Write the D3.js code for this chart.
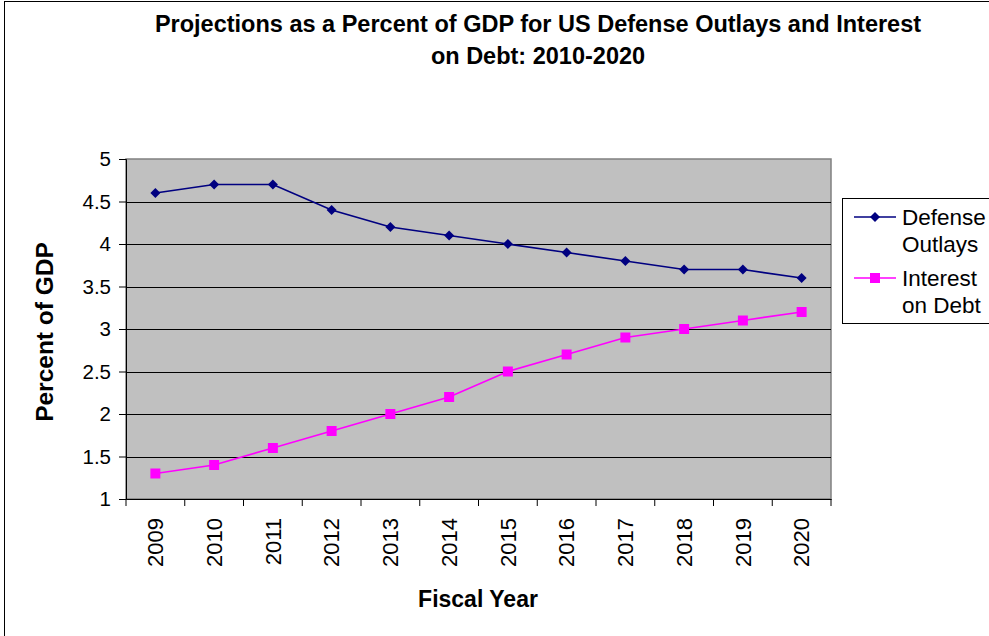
<!DOCTYPE html>
<html><head><meta charset="utf-8">
<script src="https://cdn.jsdelivr.net/npm/d3@7"></script>
<style>body{margin:0;background:#fff;} svg{display:block;font-family:"Liberation Sans",Arial,sans-serif;}</style>
</head><body><svg id="c" width="989" height="636"></svg>
<script>
const years = ["2009","2010","2011","2012","2013","2014","2015","2016","2017","2018","2019","2020"];
const defense = [4.6,4.7,4.7,4.4,4.2,4.1,4.0,3.9,3.8,3.7,3.7,3.6];
const interest = [1.3,1.4,1.6,1.8,2.0,2.2,2.5,2.7,2.9,3.0,3.1,3.2];
const yTicks = [1,1.5,2,2.5,3,3.5,4,4.5,5];
const titleLines = ["Projections as a Percent of GDP for US Defense Outlays and Interest","on Debt: 2010-2020"];
const legendNames = [["Defense","Outlays"],["Interest","on Debt"]];

const svg = d3.select("#c");
const L=126, R=831, T=159, B=499;
const x = d3.scaleBand().domain(years).range([L,R]);
const y = d3.scaleLinear().domain([1,5]).range([B,T]);

svg.append("rect").attr("x",4.5).attr("y",1.5).attr("width",1200).attr("height",900)
  .attr("fill","#fff").attr("stroke","#000");

svg.append("rect").attr("x",L).attr("y",T).attr("width",R-L).attr("height",B-T)
  .attr("fill","#C0C0C0").attr("stroke","#808080").attr("stroke-width",1.5);

// gridlines
svg.append("g").selectAll("line").data(yTicks.slice(1,-1)).join("line")
  .attr("x1",L).attr("x2",R).attr("y1",d=>Math.round(y(d))+0.5).attr("y2",d=>Math.round(y(d))+0.5)
  .attr("stroke","#000").attr("stroke-width",1);

// y axis
const ya = svg.append("g").attr("transform",`translate(${L},0)`)
  .call(d3.axisLeft(y).tickValues(yTicks).tickFormat(d3.format("")).tickSize(7).tickPadding(8));
ya.select(".domain").attr("stroke","#000");
ya.selectAll(".tick line").attr("stroke","#000");
ya.selectAll("text").attr("font-size",20.5).attr("fill","#000").attr("font-family","Liberation Sans, Arial, sans-serif");

// x axis
const xa = svg.append("g").attr("transform",`translate(0,${B})`)
  .call(d3.axisBottom(x).tickSize(0).tickSizeOuter(0));
xa.select(".domain").attr("stroke","#000");
const bounds = d3.range(years.length+1).map(i=>L+i*x.step());
xa.selectAll(".bnd").data(bounds).join("line").attr("class","bnd")
  .attr("x1",d=>d).attr("x2",d=>d).attr("y1",0).attr("y2",7).attr("stroke","#000");
xa.selectAll(".tick text").attr("font-size",22).attr("fill","#000")
  .attr("font-family","Liberation Sans, Arial, sans-serif")
  .attr("transform","rotate(-90)").attr("text-anchor","end")
  .attr("x",-19).attr("y",0).attr("dy","0.35em");

// lines
const line = d3.line().x((d,i)=>x(years[i])+x.bandwidth()/2).y(d=>y(d));
svg.append("path").datum(defense).attr("d",line).attr("fill","none").attr("stroke","#000080").attr("stroke-width",1.7);
svg.append("path").datum(interest).attr("d",line).attr("fill","none").attr("stroke","#FF00FF").attr("stroke-width",1.7);
svg.append("g").selectAll("path").data(defense).join("path")
  .attr("d",d3.symbol().type(d3.symbolSquare).size(50)).attr("transform",(d,i)=>`translate(${x(years[i])+x.bandwidth()/2},${y(d)}) rotate(45)`)
  .attr("fill","#000080");
svg.append("g").selectAll("rect").data(interest).join("rect")
  .attr("x",(d,i)=>x(years[i])+x.bandwidth()/2-5).attr("y",d=>y(d)-5)
  .attr("width",10).attr("height",10).attr("fill","#FF00FF");

// title
svg.append("g").selectAll("text").data(titleLines).join("text")
  .attr("x",538).attr("y",(d,i)=>32+i*32).attr("text-anchor","middle")
  .attr("font-size",23.5).attr("font-weight","bold").text(d=>d);

// axis titles
svg.append("text").attr("transform","translate(53,332) rotate(-90)").attr("text-anchor","middle")
  .attr("font-size",24.5).attr("font-weight","bold").text("Percent of GDP");
svg.append("text").attr("x",478).attr("y",607).attr("text-anchor","middle")
  .attr("font-size",23).attr("font-weight","bold").text("Fiscal Year");

// legend
const lg = svg.append("g");
lg.append("rect").attr("x",842.5).attr("y",198.5).attr("width",300).attr("height",125)
  .attr("fill","#fff").attr("stroke","#000");
const lcol = ["#000080","#FF00FF"];
legendNames.forEach((nm,i)=>{
  const yy = 217 + i*61;
  lg.append("line").attr("x1",854).attr("x2",896).attr("y1",yy).attr("y2",yy).attr("stroke",lcol[i]).attr("stroke-width",1.7);
  if(i===0) lg.append("path").attr("d",d3.symbol().type(d3.symbolSquare).size(50)).attr("transform",`translate(875,${yy}) rotate(45)`).attr("fill",lcol[i]);
  else lg.append("rect").attr("x",870).attr("y",yy-5).attr("width",10).attr("height",10).attr("fill",lcol[i]);
  nm.forEach((t,j)=>{
    lg.append("text").attr("x",902).attr("y",yy+8+j*27).attr("font-size",22.5).text(t);
  });
});
</script></body></html>
